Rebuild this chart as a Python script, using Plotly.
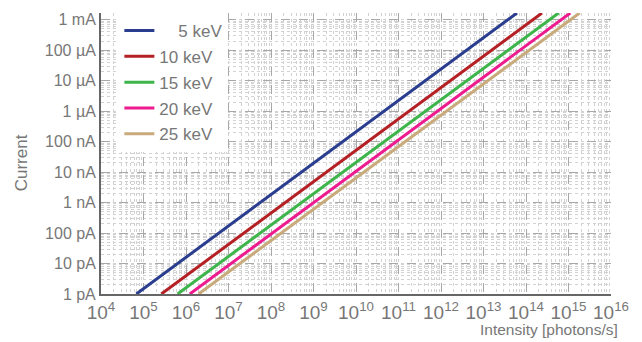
import plotly.graph_objects as go

# Data (two end points per line; lines are straight on log-log axes)
energies = ["5 keV", "10 keV", "15 keV", "20 keV", "25 keV"]
labels = ["\u2007\u20075 keV", "10 keV", "15 keV", "20 keV", "25 keV"]
colors = ["#2a3d8f", "#b52025", "#3db54a", "#ee1b8f", "#c9aa7b"]
intensity_start = [10**4.831, 10**5.419, 10**5.802, 10**6.089, 10**6.296]
intensity_end = [10**13.788, 10**14.376, 10**14.767, 10**15.042, 10**15.261]
current_start = 1e-12
current_end = 10**-2.777

y_tickvals = [1e-12, 1e-11, 1e-10, 1e-9, 1e-8, 1e-7, 1e-6, 1e-5, 1e-4, 1e-3]
y_ticktext = ["1 pA", "10 pA", "100 pA", "1 nA", "10 nA", "100 nA",
              "1 µA", "10 µA", "100 µA", "1 mA"]
x_exponents = list(range(4, 17))
x_tickvals = [10**e for e in x_exponents]
x_ticktext = ["10<sup>%d</sup>" % e for e in x_exponents]

FONT = "Liberation Sans"
TXT = "#777777"

fig = go.Figure()
for name, lab, c, xs, xe in zip(energies, labels, colors, intensity_start, intensity_end):
    fig.add_trace(go.Scatter(
        x=[xs, xe], y=[current_start, current_end], mode="lines",
        name=lab, legendgroup=name,
        line=dict(color=c, width=3),
    ))

# page body has an 8px margin, so the plot area is offset accordingly
fig.update_layout(
    width=642, height=342,
    margin=dict(l=93, r=39, t=5, b=56, autoexpand=False),
    paper_bgcolor="white", plot_bgcolor="white",
    font=dict(family=FONT, color=TXT, size=17),
    showlegend=True,
    legend=dict(
        x=0.036, y=1.0, xanchor="left", yanchor="top",
        bgcolor="white", borderwidth=0,
        font=dict(family=FONT, size=17, color=TXT),
        tracegroupgap=0.7, itemwidth=30,
    ),
)

fig.update_xaxes(
    type="log", range=[4, 16], automargin=False,
    tickvals=x_tickvals, ticktext=x_ticktext,
    tickfont=dict(family=FONT, size=19, color=TXT),
    showline=True, linecolor="#666", linewidth=2,
    ticks="", showgrid=True, gridcolor="#a8a8a8", griddash="dash", gridwidth=1,
    minor=dict(showgrid=True, gridcolor="#d2d2d2", griddash="dot", gridwidth=1, dtick="D1"),
    zeroline=False,
)
fig.update_yaxes(
    type="log", range=[-12, -2.777], automargin=False,
    tickvals=y_tickvals, ticktext=y_ticktext,
    tickfont=dict(family=FONT, size=16, color=TXT),
    showline=True, linecolor="#666", linewidth=2,
    ticks="", showgrid=True, gridcolor="#a8a8a8", griddash="dash", gridwidth=1,
    minor=dict(showgrid=True, gridcolor="#d2d2d2", griddash="dot", gridwidth=1, dtick="D1"),
    zeroline=False,
)

fig.add_annotation(text="Intensity [photons/s]", xref="paper", yref="paper",
                   x=(620 - 100.7) / 510, y=(294.3 - 330) / 281.6, xanchor="right", yanchor="middle",
                   showarrow=False, font=dict(family=FONT, size=15.5, color=TXT))
fig.add_annotation(text="Current", xref="paper", yref="paper",
                   x=(22 - 100.7) / 510, y=(294.3 - 163) / 281.6, xanchor="center", yanchor="middle",
                   textangle=-90, showarrow=False, font=dict(family=FONT, size=17, color=TXT))

fig.write_html("out.html")
